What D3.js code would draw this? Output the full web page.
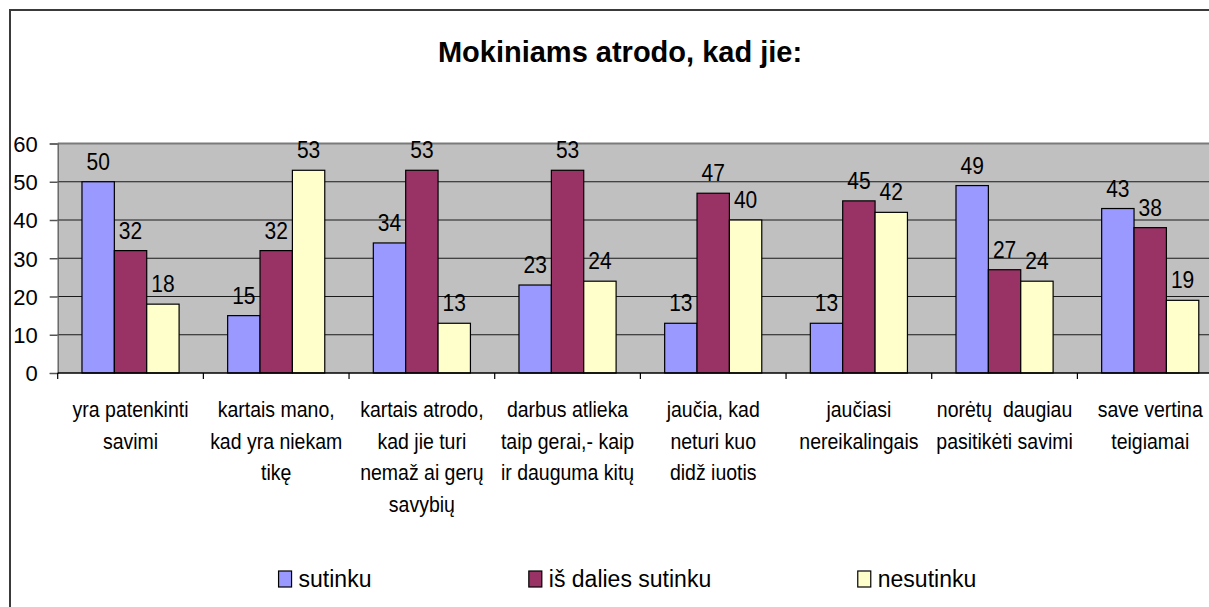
<!DOCTYPE html>
<html>
<head>
<meta charset="utf-8">
<script src="https://cdn.jsdelivr.net/npm/d3@7"></script>
<style>
  body { margin: 0; background: #fff; }
  svg text { font-family: "Liberation Sans", Arial, sans-serif; fill: #000; }
</style>
</head>
<body>
<div id="chart"></div>
<script>
// data
var title = 'Mokiniams atrodo, kad jie:';
var categories = [
    'yra patenkinti\nsavimi',
    'kartais mano,\nkad yra niekam\ntikę',
    'kartais atrodo,\nkad jie turi\nnemaž ai gerų\nsavybių',
    'darbus atlieka\ntaip gerai,- kaip\nir dauguma kitų',
    'jaučia, kad\nneturi kuo\ndidž iuotis',
    'jaučiasi\nnereikalingais',
    'norėtų  daugiau\npasitikėti savimi',
    'save vertina\nteigiamai'
];
var seriesNames = ['sutinku', 'iš dalies sutinku', 'nesutinku'];
var sutinku = [50, 15, 34, 23, 13, 13, 49, 43];
var isDaliesSutinku = [32, 32, 53, 53, 47, 45, 27, 38];
var nesutinku = [18, 53, 13, 24, 40, 42, 24, 19];
var yTicks = [0, 10, 20, 30, 40, 50, 60];

var WIDTH = 1209;
var HEIGHT = 607;
var PLOT_LEFT = 57.7;
var PLOT_TOP = 143.5;
var PLOT_BOTTOM = 373;
var BAND = 145.67;
var COLORS = ['#9999FF', '#993366', '#FFFFCC'];

var series = [sutinku, isDaliesSutinku, nesutinku];

var svg = d3.select('#chart').append('svg')
    .attr('width', WIDTH)
    .attr('height', HEIGHT);

// outer chart frame (runs off the right and bottom edges like the original)
svg.append('rect')
    .attr('x', 10).attr('y', 10)
    .attr('width', 1300).attr('height', 700)
    .style('fill', '#fff')
    .style('stroke', '#3a3a3a')
    .style('stroke-width', 2);

svg.append('text')
    .attr('x', 620).attr('y', 62)
    .style('text-anchor', 'middle')
    .style('font-weight', 'bold')
    .style('font-size', '29px')
    .text(title);

var x0 = d3.scaleBand()
    .domain(d3.range(categories.length))
    .range([PLOT_LEFT, PLOT_LEFT + BAND * categories.length]);

var x1 = d3.scaleBand()
    .domain(d3.range(series.length))
    .range([0, x0.bandwidth()])
    .paddingInner(0)
    .paddingOuter(0.75);

var y = d3.scaleLinear()
    .domain([0, 60])
    .range([PLOT_BOTTOM, PLOT_TOP]);

// plot area
svg.append('rect')
    .attr('x', PLOT_LEFT).attr('y', y(60))
    .attr('width', x0.range()[1] - PLOT_LEFT)
    .attr('height', y(0) - y(60))
    .style('fill', '#C0C0C0');

// gridlines
svg.append('g').selectAll('line')
    .data(yTicks.filter(function (d) { return d > 0 && d < 60; }))
    .enter().append('line')
    .attr('x1', PLOT_LEFT).attr('x2', x0.range()[1])
    .attr('y1', function (d) { return y(d); })
    .attr('y2', function (d) { return y(d); })
    .style('stroke', '#1a1a1a')
    .style('stroke-width', 1.2);

svg.append('line')
    .attr('x1', PLOT_LEFT).attr('x2', x0.range()[1])
    .attr('y1', y(60)).attr('y2', y(60))
    .style('stroke', '#7a7a7a')
    .style('stroke-width', 2);

// y axis
var yAxis = svg.append('g')
    .attr('transform', 'translate(' + PLOT_LEFT + ',0)')
    .call(d3.axisLeft(y).tickValues(yTicks).tickSize(8).tickPadding(12));
yAxis.select('.domain').style('stroke', '#555').style('stroke-width', 1.2);
yAxis.selectAll('.tick line').style('stroke', '#555').style('stroke-width', 1.5);
yAxis.selectAll('.tick text')
    .style('font-size', '22px')
    .style('font-family', '"Liberation Sans", Arial, sans-serif')
    .attr('dy', '0.36em');

// bars
var groups = svg.append('g').selectAll('g')
    .data(categories.map(function (c, i) { return i; }))
    .enter().append('g')
    .attr('transform', function (i) { return 'translate(' + x0(i) + ',0)'; });

groups.selectAll('rect')
    .data(function (i) { return series.map(function (s, k) { return { k: k, v: s[i] }; }); })
    .enter().append('rect')
    .attr('x', function (d) { return x1(d.k); })
    .attr('y', function (d) { return y(d.v); })
    .attr('width', x1.bandwidth())
    .attr('height', function (d) { return y(0) - y(d.v); })
    .style('fill', function (d) { return COLORS[d.k]; })
    .style('stroke', '#000')
    .style('stroke-width', 1.2);

// value labels
groups.selectAll('text')
    .data(function (i) { return series.map(function (s, k) { return { k: k, v: s[i] }; }); })
    .enter().append('text')
    .attr('transform', function (d) {
        return 'translate(' + (x1(d.k) + x1.bandwidth() / 2) + ',' + (y(d.v) - 12) + ') scale(1,1.1)';
    })
    .style('text-anchor', 'middle')
    .style('font-size', '21px')
    .text(function (d) { return d.v; });

// x axis
var xAxis = svg.append('g');
xAxis.append('line')
    .attr('x1', PLOT_LEFT).attr('x2', x0.range()[1])
    .attr('y1', y(0)).attr('y2', y(0))
    .style('stroke', '#000')
    .style('stroke-width', 1.5);
xAxis.selectAll('line.tick')
    .data(d3.range(categories.length + 1))
    .enter().append('line')
    .attr('class', 'tick')
    .attr('x1', function (i) { return PLOT_LEFT + i * x0.step(); })
    .attr('x2', function (i) { return PLOT_LEFT + i * x0.step(); })
    .attr('y1', y(0)).attr('y2', y(0) + 6)
    .style('stroke', '#000')
    .style('stroke-width', 1.2);

// category labels
var catLabels = xAxis.selectAll('g.cat')
    .data(categories)
    .enter().append('g')
    .attr('class', 'cat')
    .attr('transform', function (d, i) { return 'translate(' + (x0(i) + x0.bandwidth() / 2) + ',0)'; });

catLabels.selectAll('text')
    .data(function (d) { return d.split('\n'); })
    .enter().append('text')
    .attr('transform', function (d, j) { return 'translate(0,' + (417 + j * 31.5) + ') scale(1,1.15)'; })
    .style('text-anchor', 'middle')
    .style('font-size', '19.5px')
    .style('white-space', 'pre')
    .text(function (d) { return d; });

// legend
var legend = svg.append('g');
var items = legend.selectAll('g')
    .data(seriesNames)
    .enter().append('g');

items.append('rect')
    .attr('width', 13).attr('height', 16)
    .attr('y', 571)
    .style('fill', function (d, i) { return COLORS[i]; })
    .style('stroke', '#000')
    .style('stroke-width', 1.2);

items.append('text')
    .attr('x', 20).attr('y', 587)
    .style('font-size', '23px')
    .text(function (d) { return d; });

var centers = [325, 620, 917];
items.each(function (d, i) {
    var w = 20 + this.querySelector('text').getComputedTextLength();
    d3.select(this).attr('transform', 'translate(' + (centers[i] - w / 2) + ',0)');
});
</script>
</body>
</html>
